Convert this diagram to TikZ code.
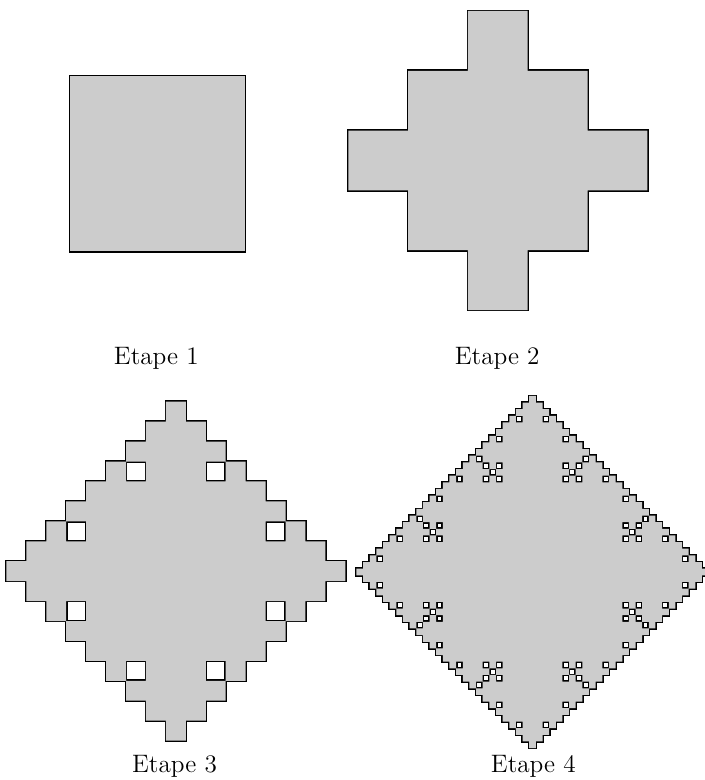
\documentclass[tikz,border=0pt]{standalone}
\usepackage{tikz}

\tikzset{
  contour/.style={draw=black, line width=1.3pt},
  fond/.style={fill=black!20},
}
\newcommand{\motif}{0/0,1/0,-1/0,0/1,0/-1,1/1,1/-1,-1/1,-1/-1,2/0,-2/0,0/2,0/-2}

\begin{document}
\begin{tikzpicture}[every node/.style={font=\fontsize{12}{14}\selectfont}]
\useasboundingbox (0,0) rectangle (11.773,13.043);

% etape 1
\filldraw[fond, line width=0.65pt] (1.159,8.829) rectangle (4.109,11.778);
\node[anchor=base] (e1) at (2.614,6.940) {Etape 1};

% etape 2
\begin{scope}[shift={(8.324,10.359)}]
\path[contour] foreach \xa/\ya in \motif {(\xa-0.5,\ya-0.5) rectangle ++(1,1)};
\path[fond] foreach \xa/\ya in \motif {(\xa-0.5,\ya-0.5) rectangle ++(1,1)};
\end{scope}
\node[anchor=base] (e2) at (8.314,6.940) {Etape 2};

% etape 3
\begin{scope}[shift={(2.941,3.492)}]
\path[contour] foreach \xa/\ya in \motif {foreach \xb/\yb in \motif
  {(\xa+\xb/3-1/6,\ya+\yb/3-1/6) rectangle ++(1/3,1/3)}};
\path[fond] foreach \xa/\ya in \motif {foreach \xb/\yb in \motif
  {(\xa+\xb/3-1/6,\ya+\yb/3-1/6) rectangle ++(1/3,1/3)}};
\end{scope}
\node[anchor=base] (e3) at (2.918,0.129) {Etape 3};

% etape 4
\begin{scope}[shift={(8.905,3.478)}]
\path[contour] foreach \xa/\ya in \motif {foreach \xb/\yb in \motif {foreach \xc/\yc in \motif
  {(\xa+\xb/3+\xc/9-1/18,\ya+\yb/3+\yc/9-1/18) rectangle ++(1/9,1/9)}}};
\path[fond] foreach \xa/\ya in \motif {foreach \xb/\yb in \motif {foreach \xc/\yc in \motif
  {(\xa+\xb/3+\xc/9-1/18,\ya+\yb/3+\yc/9-1/18) rectangle ++(1/9,1/9)}}};
\end{scope}
\node[anchor=base] (e4) at (8.918,0.129) {Etape 4};
\end{tikzpicture}
\end{document}
